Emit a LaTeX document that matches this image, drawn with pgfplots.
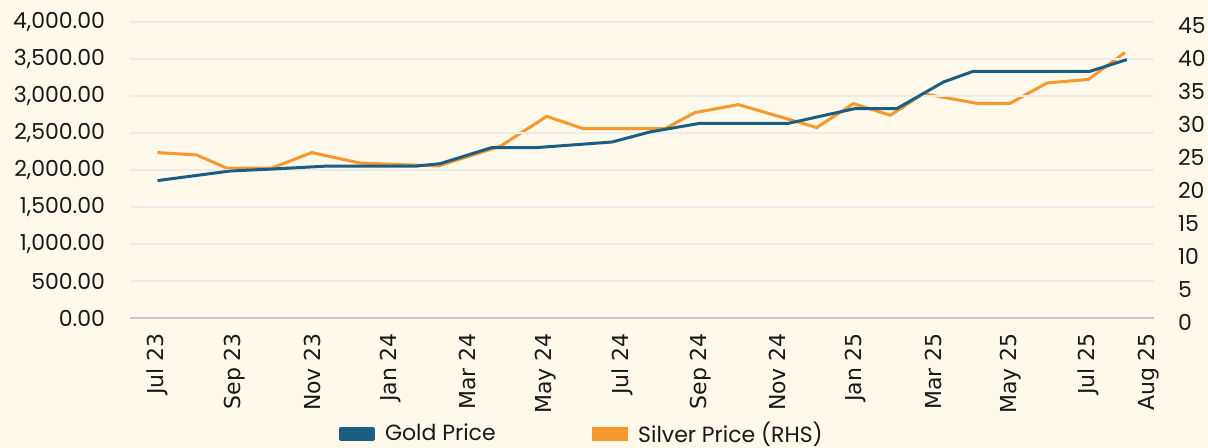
\documentclass[border=0pt]{standalone}
\usepackage{pgfplots}
\usepackage{pgfplotstable}
\pgfplotsset{compat=1.18}
\usepackage{fontspec}
\setmainfont{Poppins}
\newfontfamily\dejavu{DejaVu Sans}
\definecolor{bg}{RGB}{255,249,236}
\definecolor{goldc}{RGB}{26,95,130}
\definecolor{silverc}{RGB}{247,152,45}
\definecolor{gridc}{RGB}{236,236,232}
\definecolor{axisc}{RGB}{200,200,200}
\definecolor{txt}{RGB}{25,25,25}

\pgfplotstableread{
x y
0.00 1857
1.87 1986
2.99 2014
4.41 2054
6.69 2054
7.29 2086
8.62 2303
9.78 2303
11.72 2378
12.70 2514
13.99 2631
16.27 2631
17.99 2830
19.07 2830
20.27 3189
21.04 3334
24.05 3334
25.00 3492
}\goldtab

\pgfplotstableread{
x y
0.00 25.15
1.01 24.78
1.78 22.80
2.95 22.80
3.98 25.15
5.22 23.56
7.24 23.11
8.84 26.10
10.04 30.66
10.98 28.79
13.09 28.79
13.86 31.23
14.98 32.44
16.31 30.16
17.00 28.95
17.95 32.59
18.90 30.82
19.75 34.11
21.13 32.64
21.99 32.64
22.94 35.73
24.01 36.28
24.95 40.35
}\silvertab

\begin{document}
\begin{tikzpicture}
\fill[bg] (-65bp,-65bp) rectangle (539bp,159bp);
% Silver (right axis), drawn first so the grid of the gold axis lies over it
\begin{axis}[
  scale only axis, width=512bp, height=148bp,
  xmin=-0.709, xmax=25.70,
  ymin=0, ymax=45,
  axis y line*=right, axis x line=none,
  y axis line style={draw=none},
  ytick={0,5,...,45},
  major tick length=0pt,
  yticklabel style={font=\fontsize{11bp}{13bp}\selectfont, text=txt, yshift=-2bp},
  yticklabel shift=8.5bp,
  /pgf/number format/assume math mode=true,
  clip=false,
]
\addplot[silverc, line width=1.5bp, line join=round] table[x=x,y=y] {\silvertab};
\end{axis}
% Gold (left axis)
\begin{axis}[
  scale only axis, width=512bp, height=148bp,
  xmin=-0.709, xmax=25.70,
  ymin=0, ymax=4000,
  axis y line*=left, axis x line*=bottom,
  y axis line style={draw=none},
  x axis line style={draw=axisc, line width=1.4bp, -},
  ytick={0,500,...,4000},
  ymajorgrids, grid style={draw=gridc, line width=1.4bp},
  major tick length=0pt,
  xtick={0,2,4,6,8,10,12,14,16,18,20,22,24,25.55},
  xticklabels={Jul 23,Sep 23,Nov 23,Jan 24,Mar 24,May 24,Jul 24,Sep 24,Nov 24,Jan 25,Mar 25,May 25,Jul 25,Aug 25},
  xticklabel style={rotate=90, anchor=east, font=\dejavu\fontsize{11bp}{13bp}\selectfont, text=txt},
  xticklabel shift=4bp,
  yticklabel style={font=\fontsize{11bp}{13bp}\selectfont, text=txt,
    /pgf/number format/.cd, fixed, fixed zerofill, precision=2, 1000 sep={,}, assume math mode=true},
  yticklabel shift=9bp,
  legend columns=2,
  legend style={at={(0.442,-0.392)}, anchor=center, draw=none, fill=none,
    font=\fontsize{11bp}{13bp}\selectfont, text=txt,
    /tikz/every even column/.append style={column sep=46bp}},
  legend image code/.code={\fill[#1] (0bp,-2.75bp) rectangle (16.5bp,2.75bp); \path[draw=none,fill=none] (0bp,0bp) -- (20.5bp,0bp);},
  clip=false,
]
\addplot[goldc, line width=1.5bp, line join=round] table[x=x,y=y] {\goldtab};
\addlegendentry{Gold Price}
\addlegendimage{silverc, line width=1.5bp}
\addlegendentry{Silver Price (RHS)}
\end{axis}
\pgfresetboundingbox
\path[use as bounding box] (-65bp,-65bp) rectangle (539bp,159bp);
\end{tikzpicture}
\end{document}
